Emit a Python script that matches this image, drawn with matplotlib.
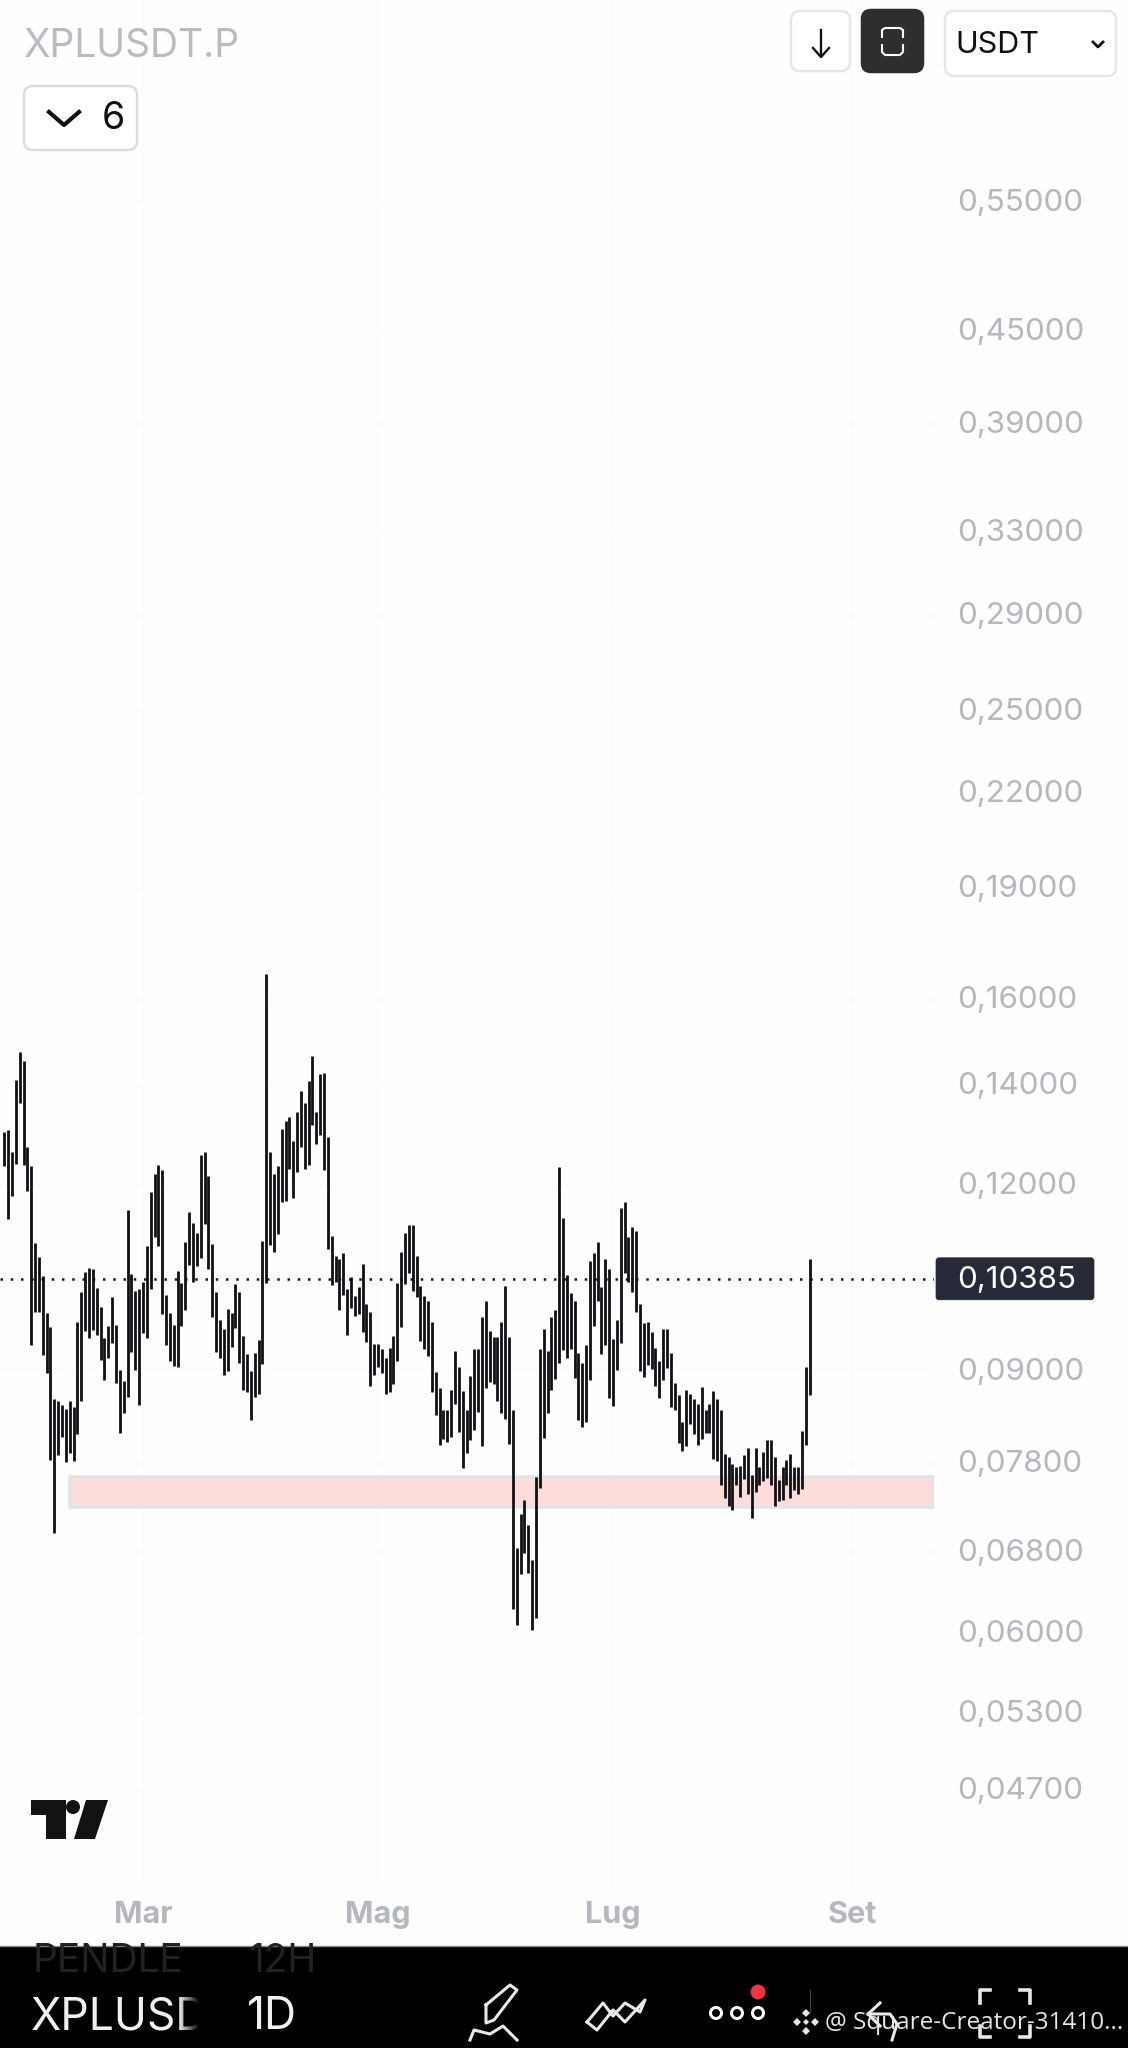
import numpy as np
import matplotlib
matplotlib.use("Agg")
import matplotlib.pyplot as plt
import matplotlib.dates as mdates
from matplotlib.patches import FancyBboxPatch, Polygon, Circle, Rectangle
from matplotlib.ticker import FixedLocator, FixedFormatter, NullLocator
from matplotlib.transforms import ScaledTranslation

highs = [.1304,.1308,.1264,.1412,.1476,.1456,.1274,.1237,.1097,.1074,.1043,.0985,.0964,.0862,.0859,.0854,.0849,.0859,.0851,
         .0971,.1017,.1049,.1056,.1054,.1024,.0994,.0947,.0965,.1010,.0967,.0902,.0887,.1156,.1046,.1019,.1022,.1034,.1092,
         .1188,.1221,.1238,.1229,.1013,.0985,.0967,.1051,.1031,.1099,.1151,.1133,.1115,.1257,.1263,.1217,.1096,.1018,.0975,
         .0961,.0991,.0985,.1030,.1017,.0951,.0925,.0901,.0926,.0945,.1101,.1664,.1263,.1222,.1237,
         .1310,.1325,.1335,.1285,.1345,.1389,.1364,.1411,.1466,.1344,.1427,.1428,.1294,.1110,.1075,.1071,.1081,.1022,.1042,
         .1011,.1026,.1062,.0999,.0986,.0939,.0939,.0931,.0918,.0933,.0951,.1031,.1083,.1115,.1128,.1128,.1076,.1027,.1011,
         .1003,.0972,.0899,.0877,.0848,.0847,.0874,.0929,.0906,.0873,.0848,.0894,.0932,.0932,.0979,.1003,.0958,.0949,.0949,
         .0972,.1027,.0949,.0848,.0684,.0722,.0737,.0709,.0672,.0764,.0932,.0961,.0929,.0979,
         .0990,.1234,.1141,.1045,.1016,.1003,.0926,.0912,.0938,.1068,.1081,.1100,.1025,.1070,.1055,.0946,.0974,.1159,.1169,
         .1108,.1126,.1118,.0999,.0970,.0971,.0957,.0933,.0914,.0961,.0961,.0926,.0884,.0867,.0832,.0874,.0869,.0862,.0856,
         .0878,.0848,.0856,.0873,.0862,.0848,.0792,.0788,.0780,.0776,.0777,.0790,.0799,.0767,.0799,.0776,.0794,.0809,.0809,
         .0788,.0761,.0776,.0784,.0792,.0776,.0776,.0820,.0906,.1070]
lows = [.1236,.1140,.1181,.1241,.1363,.1238,.1190,.0938,.0986,.0986,.0923,.0897,.0785,.0701,.0790,.0813,.0782,.0793,.0783,
        .0817,.0860,.0958,.0947,.0959,.0952,.0916,.0888,.0919,.0940,.0884,.0818,.0843,.0865,.0927,.0902,.0854,.0955,.0947,
        .1022,.1108,.1092,.0984,.0937,.0915,.0907,.0906,.0965,.0990,.1061,.1034,.1059,.1073,.1130,.1055,.0979,.0927,.0918,
        .0895,.0900,.0935,.0962,.0911,.0874,.0871,.0834,.0865,.0869,.0910,.1031,.1094,.1082,.1113,
        .1170,.1171,.1230,.1176,.1226,.1273,.1231,.1238,.1317,.1279,.1298,.1229,.1088,.1028,.1033,.0990,.1012,.0952,.0993,
        .0980,.0984,.0956,.0942,.0880,.0895,.0906,.0898,.0869,.0871,.0883,.0915,.0964,.1030,.1048,.1019,.1009,.0943,.0932,
        .0921,.0871,.0841,.0803,.0810,.0807,.0813,.0855,.0819,.0775,.0793,.0809,.0822,.0845,.0801,.0877,.0885,.0882,.0860,
        .0844,.0836,.0804,.0623,.0608,.0657,.0679,.0659,.0603,.0614,.0751,.0811,.0844,.0874,
        .0889,.0912,.0930,.0918,.0931,.0890,.0834,.0825,.0832,.0888,.0965,.1003,.0925,.0938,.0863,.0853,.0902,.0940,.1048,
        .1033,.1017,.0986,.0901,.0892,.0909,.0903,.0879,.0863,.0888,.0905,.0852,.0848,.0805,.0796,.0802,.0830,.0817,.0803,
        .0810,.0818,.0818,.0786,.0783,.0755,.0740,.0730,.0726,.0755,.0741,.0762,.0744,.0717,.0747,.0755,.0759,.0763,.0755,
        .0730,.0736,.0737,.0755,.0740,.0749,.0744,.0750,.0803,.0868]
last_date = '2026-08-21'
price_ticks = [0.55, 0.45, 0.39, 0.33, 0.29, 0.25, 0.22, 0.19, 0.16, 0.14, 0.12, 0.09, 0.078, 0.068, 0.06, 0.053, 0.047]
month_dates = ['2026-03-01', '2026-05-01', '2026-07-01', '2026-09-01']
month_labels = ['Mar', 'Mag', 'Lug', 'Set']
last_price = 0.10385
zone_start = '2026-02-10'
zone_top = 0.0764
zone_bottom = 0.0729

n = min(len(highs), len(lows))
dates = np.datetime64(last_date) - np.arange(n)[::-1]
xs = mdates.date2num(dates)

W, H = 1128, 2048
plt.rcParams['font.family'] = ['Inter', 'DejaVu Sans']
BG = '#fefefe'
fig = plt.figure(figsize=(W/100, H/100), dpi=100, facecolor=BG)
ax_bottom = 1885
ax = fig.add_axes([0, 1-ax_bottom/H, 934/W, ax_bottom/H], facecolor=BG)
ax.set_yscale('log')
shift = np.exp(4/645.9)
ax.set_ylim(0.04037*shift, 0.7476*shift)
x0 = mdates.date2num(np.datetime64('2026-03-01'))
ax.set_xlim(x0-37.1, x0+205.3)
for s in ax.spines.values():
    s.set_visible(False)
LBL = '#b4b7be'
ax.yaxis.tick_right()
ax.yaxis.set_major_locator(FixedLocator(price_ticks))
ax.yaxis.set_major_formatter(FixedFormatter([f'{p:.5f}'.replace('.', ',') for p in price_ticks]))
ax.yaxis.set_minor_locator(NullLocator())
ax.xaxis.set_major_locator(FixedLocator(mdates.date2num(np.array(month_dates, dtype='datetime64[D]'))))
ax.xaxis.set_major_formatter(FixedFormatter(month_labels))
ax.xaxis.set_minor_locator(NullLocator())
ax.tick_params(axis='y', length=0, pad=16.5, labelsize=22.6, labelcolor=LBL)
ax.tick_params(axis='x', length=0, pad=11.5, labelsize=22, labelcolor=LBL)
for t in ax.get_xticklabels():
    t.set_fontweight('bold')
fig.canvas.draw()
for t in ax.get_yticklabels():
    t.set_transform(t.get_transform() + ScaledTranslation(0, 2.5/100, fig.dpi_scale_trans))
ax.grid(True, color='#fcfcfc', lw=1.2)
ax.set_axisbelow(True)

zs = mdates.date2num(np.datetime64(zone_start))
ax.add_patch(Rectangle((zs, zone_bottom), x0+205.3-zs, zone_top-zone_bottom, facecolor='#fddcdc',
                       edgecolor='#e3e3e5', lw=2.6, zorder=2))
ax.axhline(last_price, color='#1a1a1a', lw=1.8, ls=(0, (1, 3.1)), zorder=3)
ax.vlines(xs, lows, highs, color='#101115', lw=2.0, zorder=4)

# overlay in screen pixels for the app interface
ui = fig.add_axes([0, 0, 1, 1], facecolor='none')
ui.set_xlim(0, W)
ui.set_ylim(H, 0)
ui.axis('off')

def box(x0_, y0_, x1_, y1_, fc='#ffffff', ec='#e6e6e8', r=9, lw=1.8, z=5):
    ui.add_patch(FancyBboxPatch((x0_+r, y0_+r), x1_-x0_-2*r, y1_-y0_-2*r,
                                boxstyle=f'round,pad={r},rounding_size={r}', fc=fc, ec=ec, lw=lw, zorder=z))

# price tag
yd = ax.transData.transform((x0, last_price))[1]
ytag = H - yd
box(936, ytag-21, 1094, ytag+21, fc='#262a38', ec='#262a38', r=3, lw=0.5)
ui.text(957, ytag+1.5, f'{last_price:.5f}'.replace('.', ','), color='white', fontsize=22.6, va='center', ha='left', zorder=6)

# top bar
ui.text(24, 46.5, 'XPLUSDT.P', color='#b8bbc2', fontsize=28, va='center', ha='left')
box(791, 11, 850, 71)
ui.plot([821, 821], [30, 56], color='#111', lw=1.7, zorder=6)
ui.plot([813, 821, 829], [48, 57, 48], color='#111', lw=1.7, zorder=6)
box(862, 10, 923, 72, fc='#2e2e30', ec='#2e2e30', r=9)
ui.plot([882, 882, 885, 900, 903, 903], [37, 30, 28, 28, 30, 37], color='white', lw=1.5, zorder=6)
ui.plot([882, 882, 885, 900, 903, 903], [45, 52, 55, 55, 52, 45], color='white', lw=1.5, zorder=6)
box(945, 11, 1116, 76)
ui.text(955, 45, 'USDT', color='#111', fontsize=22, va='center', ha='left', zorder=6)
ui.plot([1093, 1098, 1103], [42, 47, 42], color='#111', lw=2, zorder=6)
box(24, 86, 137, 150, ec='#dcdcde')
ui.plot([49, 64, 79], [112, 125, 112], color='#111', lw=3, zorder=6)
ui.text(102, 119, '6', color='#111', fontsize=27, va='center', ha='left', zorder=6)

# logo
ui.add_patch(Polygon([(31, 1800), (66, 1800), (66, 1839), (46, 1839), (46, 1815), (31, 1815)], fc='#131313', ec='none'))
ui.add_patch(Circle((73, 1807), 7, fc='#131313', ec='none'))
ui.add_patch(Polygon([(86, 1800), (108, 1800), (95, 1839), (74, 1839)], fc='#131313', ec='none'))

# bottom bar
ui.add_patch(Rectangle((0, 1946), W, H-1946, fc='#000000', ec='none', zorder=5))
ui.plot([0, W], [1946, 1946], color='#8a8a8a', lw=1, zorder=6)
ui.text(33, 1961, 'PENDLE', color='#222225', fontsize=28, va='center', ha='left', zorder=6)
ui.text(248, 1961, '12H', color='#222225', fontsize=28, va='center', ha='left', zorder=6)
t = ui.text(31, 2017, 'XPLUSDT', color='#f0f0f0', fontsize=32, va='center', ha='left', zorder=6)
t.set_clip_on(True)
t.set_clip_path(Rectangle((0, 1946), 200, 102, transform=ui.transData))
for i in range(10):
    ui.add_patch(Rectangle((180+i*2, 1990), 2.2, 48, fc='#000', ec='none', alpha=(i+1)/10, zorder=6.5))
ui.text(247, 2017, '1D', color='#f0f0f0', fontsize=32, va='center', ha='left', zorder=6)
IC = '#e8e8e8'
# pencil
ui.plot([486, 510, 517, 494, 486, 486], [2005, 1985, 1990, 2020, 2023, 2005], color=IC, lw=2.2, zorder=6)
ui.plot([470, 474, 490, 503, 517], [2040, 2030, 2034, 2026, 2040], color=IC, lw=2.2, zorder=6)
# lines icon
ui.plot([587, 603, 613, 625, 640, 645, 625, 613, 597, 587], [2022, 2003, 2016, 2003, 2012, 2000, 2022, 2010, 2030, 2022], color=IC, lw=2.2, zorder=6)
for cx in (716, 737, 758):
    ui.add_patch(Circle((cx, 2013), 5.5, fc='#000', ec='white', lw=2.2, zorder=6))
ui.add_patch(Circle((758, 1992), 7.5, fc='#f23645', ec='none', zorder=6))
ui.plot([810, 810], [1990, 2012], color='#444', lw=0.8, zorder=6)
ui.plot([880, 868, 880], [2003, 2014, 2026], color=IC, lw=2.2, zorder=6)
ui.plot([868, 890, 897, 892], [2014, 2014, 2024, 2040], color=IC, lw=2.2, zorder=6)
for xs_, ys_ in (([980, 980, 990], [2003, 1990, 1990]), ([1030, 1030, 1020], [2003, 1990, 1990]),
                 ([980, 980, 990], [2026, 2037, 2037]), ([1030, 1030, 1020], [2026, 2037, 2037])):
    ui.plot(xs_, ys_, color=IC, lw=2.6, zorder=6)
# watermark mark: five small diamonds
for dx, dy, r in ((0, -9, 4), (-9, 0, 4), (9, 0, 4), (0, 9, 4), (0, 0, 3)):
    cx, cy = 806+dx, 2022+dy
    ui.add_patch(Polygon([(cx, cy-r), (cx+r, cy), (cx, cy+r), (cx-r, cy)], fc='#e6e6e6', ec='none', zorder=8))
ui.text(825, 2023, '@ Square-Creator-31410...', color='#e6e6e6', fontsize=17.5, family=['Open Sans', 'DejaVu Sans'],
        va='center', ha='left', zorder=8)

fig.savefig('out.png', dpi=100, facecolor=BG)
